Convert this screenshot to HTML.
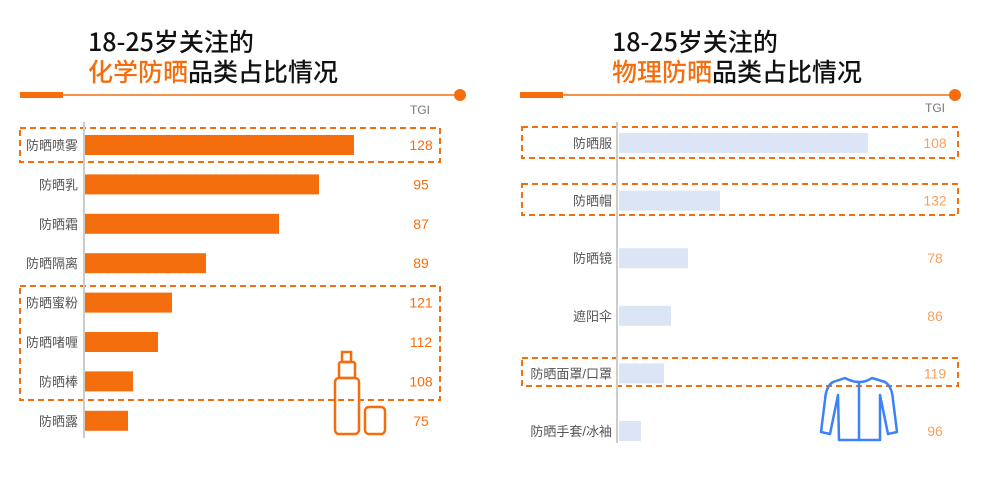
<!DOCTYPE html>
<html><head><meta charset="utf-8"><style>
body{margin:0;background:#fff;}
svg text{font-family:"Liberation Sans","Noto Sans CJK SC",sans-serif;}
.ttl{font-family:"Noto Sans CJK SC",sans-serif !important;}
</style></head><body>
<svg width="1000" height="482" viewBox="0 0 1000 482" xmlns="http://www.w3.org/2000/svg">
<g>
<text class="ttl" x="88" y="51" font-size="25" font-weight="500" fill="#111">18-25岁关注的</text>
<text class="ttl" x="88" y="81" font-size="25" font-weight="500"><tspan fill="#f46e0e">化学防晒</tspan><tspan fill="#111">品类占比情况</tspan></text>
</g>
<g>
<text class="ttl" x="612" y="51" font-size="25" font-weight="500" fill="#111">18-25岁关注的</text>
<text class="ttl" x="612" y="81" font-size="25" font-weight="500"><tspan fill="#f46e0e">物理防晒</tspan><tspan fill="#111">品类占比情况</tspan></text>
</g>
<g>
<rect x="20" y="92" width="43" height="6" fill="#f46e0e"/><line x1="63" y1="95" x2="458" y2="95" stroke="#f46e0e" stroke-width="1.5"/><circle cx="460" cy="95" r="6" fill="#f46e0e"/>
</g>
<g>
<rect x="520" y="92" width="43" height="6" fill="#f46e0e"/><line x1="563" y1="95" x2="953" y2="95" stroke="#f46e0e" stroke-width="1.5"/><circle cx="955" cy="95" r="6" fill="#f46e0e"/>
</g>
<text x="420" y="114" font-size="12" fill="#777" text-anchor="middle">TGI</text>
<text x="935" y="112" font-size="12" fill="#777" text-anchor="middle">TGI</text>
<g fill="none" stroke="#f46e0e" stroke-width="2" stroke-dasharray="6,4">
<rect x="20" y="128" width="420" height="34"/><rect x="20" y="286" width="420" height="114"/>
<rect x="522" y="127" width="436" height="31"/><rect x="522" y="184" width="436" height="31"/><rect x="522" y="358" width="436" height="28"/>
</g>
<line x1="84" y1="122" x2="84" y2="438" stroke="#ccc" stroke-width="2"/>
<line x1="617" y1="122" x2="617" y2="443" stroke="#ccc" stroke-width="2"/>
<g id="left"></g>
<g id="right"></g>
<g fill="none" stroke="#f46e0e" stroke-width="2.5">
<rect x="335" y="378" width="24" height="56" rx="4"/><rect x="339" y="362" width="16" height="16" rx="2"/><rect x="342" y="352" width="9" height="10"/><rect x="365" y="407" width="20" height="27" rx="4"/>
</g>
<g fill="none" stroke="#3b82f6" stroke-width="2.5" stroke-linejoin="round">
<path d="M845 378 L833 382 Q826 386 825 400 L821 432 L830 434 L838 395 L839 440 L880 440 L880 395 L888 434 L897 432 L893 400 Q892 386 885 382 L872 378 Q860 386 845 378 Z"/>
<line x1="859" y1="382" x2="859" y2="440"/>
</g>
<script>
const leftCats=["防晒喷雾","防晒乳","防晒霜","防晒隔离","防晒蜜粉","防晒啫喱","防晒棒","防晒露"];
const leftVals=[26.9,23.4,19.4,12.1,8.7,7.3,4.8,4.3];
const leftTgi=[128,95,87,89,121,112,108,75];
const rightCats=["防晒服","防晒帽","防晒镜","遮阳伞","防晒面罩/口罩","防晒手套/冰袖"];
const rightVals=[24.9,10.1,6.9,5.2,4.5,2.2];
const rightTgi=[108,132,78,86,119,96];
const NS="http://www.w3.org/2000/svg";
function mk(t,a,p){const e=document.createElementNS(NS,t);for(const k in a)e.setAttribute(k,a[k]);p.appendChild(e);return e;}
function draw(g,cats,vals,tgi,x0,y0,step,scale,color,tgiX,labX,tgiColor){
 cats.forEach((c,i)=>{
  const yc=y0+i*step;
  const r=mk('rect',{x:x0,y:yc-10,width:vals[i]*scale,height:20,fill:color},g);
  
  
  const l=mk('text',{x:labX,y:yc+5,'font-size':13,fill:'#555','text-anchor':'end'},g);l.textContent=c;
  
  
  const v=mk('text',{x:tgiX,y:yc+5,'font-size':14,fill:tgiColor,'text-anchor':'middle'},g);v.textContent=tgi[i];
  
  
 });
}
draw(document.getElementById('left'),leftCats,leftVals,leftTgi,85,145,39.4,10,'#f46e0e',421,78,'#f46e0e');
draw(document.getElementById('right'),rightCats,rightVals,rightTgi,619,143,57.6,10,'#dbe5f5',935,612,'#f7a15e');
</script>
</svg>
</body></html>
